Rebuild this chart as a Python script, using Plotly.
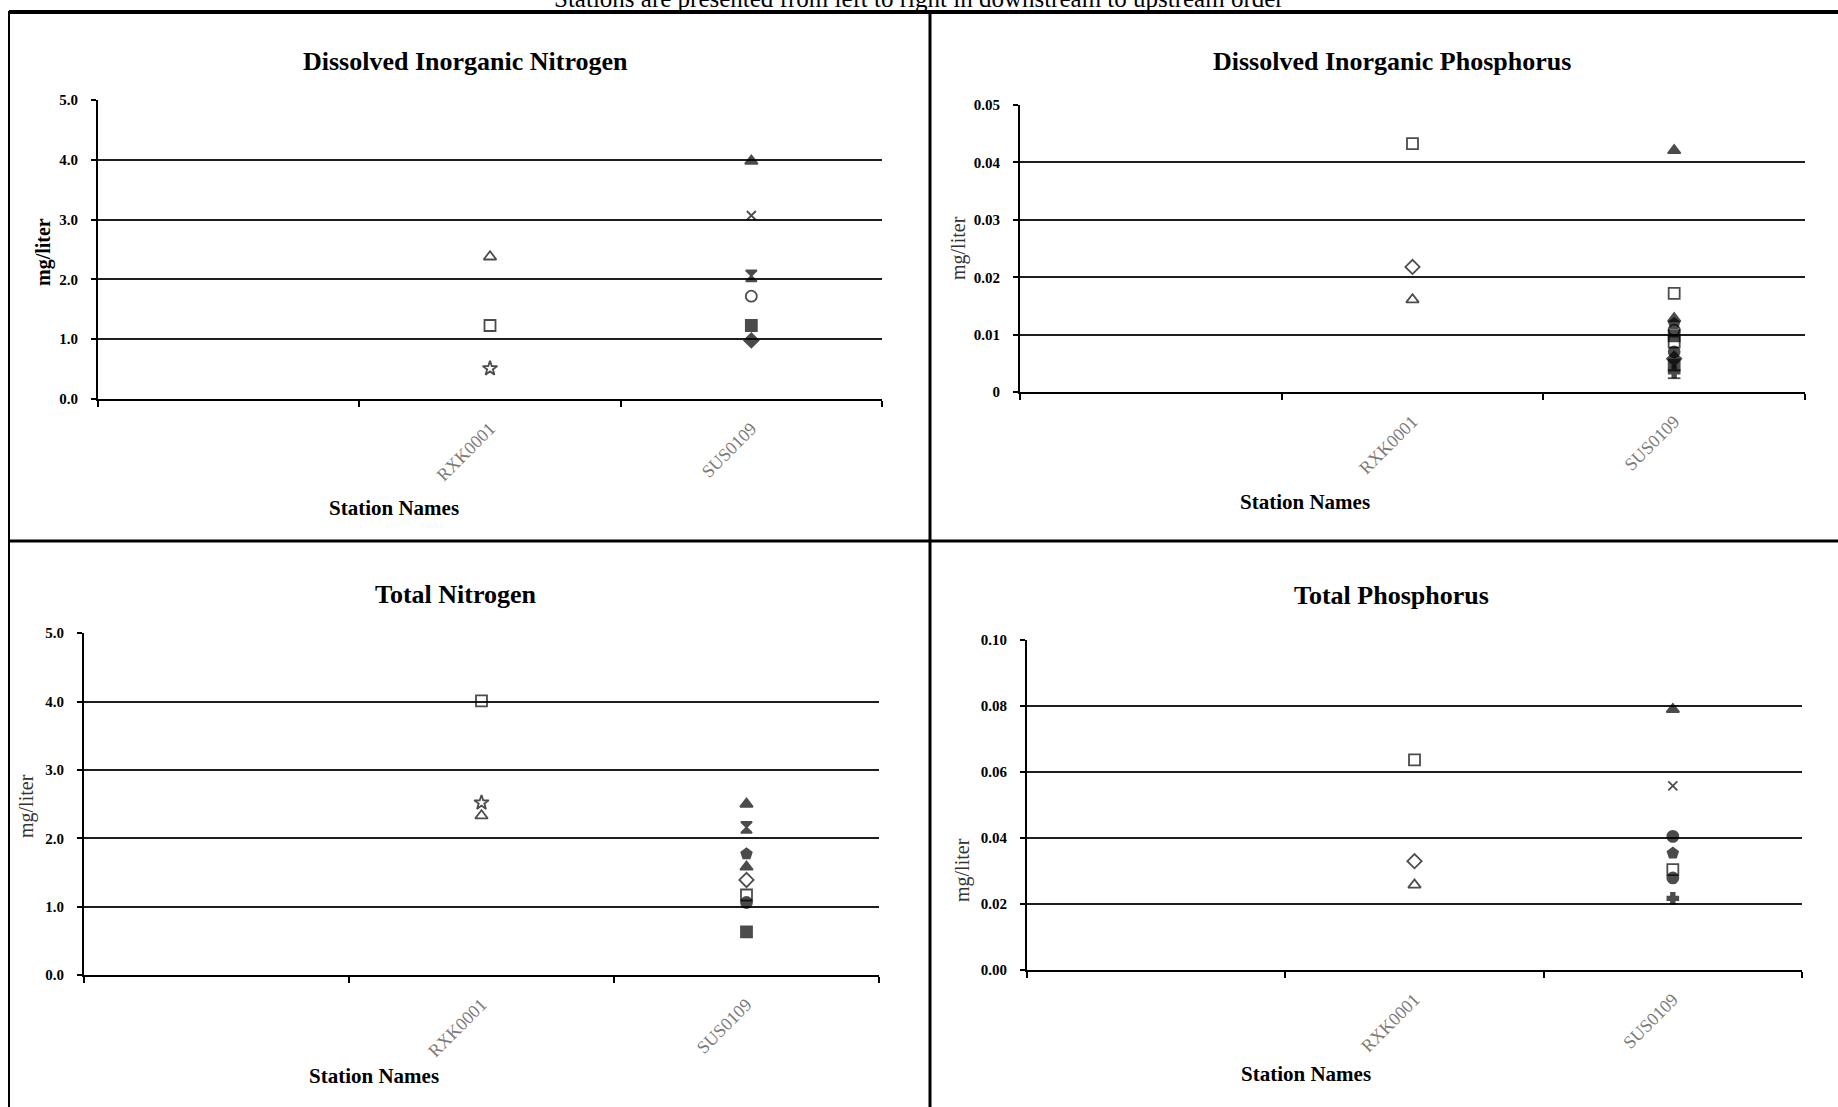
import plotly.graph_objects as go

W, H = 1838, 1107
FONT = "Liberation Serif"
OFF = 0  # body margin is removed by the post script below

# ---------------- data ----------------
stations = [' ', 'RXK0001', 'SUS0109']

din_rxk = [2.38, 1.23, 0.51]
din_sus = [3.98, 3.07, 2.06, 1.72, 1.23, 0.98]

dip_rxk = [0.0433, 0.0218, 0.0161]
dip_sus = [0.0421, 0.0172, 0.0128, 0.0119, 0.0108, 0.0098, 0.0087,
           0.0070, 0.0058, 0.0047, 0.0035, 0.0024]

tn_rxk = [4.01, 2.52, 2.33]
tn_sus = [2.50, 2.16, 1.77, 1.58, 1.39, 1.17, 1.06, 0.63]

tp_rxk = [0.0637, 0.0330, 0.0258]
tp_sus = [0.0790, 0.0558, 0.0405, 0.0354, 0.0304, 0.0279, 0.0217]

n_ticks = [0, 1, 2, 3, 4, 5]
n_labels = ['0.0', '1.0', '2.0', '3.0', '4.0', '5.0']
dip_ticks = [0, 0.01, 0.02, 0.03, 0.04, 0.05]
dip_labels = ['0', '0.01', '0.02', '0.03', '0.04', '0.05']
tp_ticks = [0, 0.02, 0.04, 0.06, 0.08, 0.10]
tp_labels = ['0.00', '0.02', '0.04', '0.06', '0.08', '0.10']

titles = ['Dissolved Inorganic Nitrogen', 'Dissolved Inorganic Phosphorus',
          'Total Nitrogen', 'Total Phosphorus']
top_note = 'Stations are presented from left to right in downstream to upstream order'

# ---------------- styles ----------------
din_rxk_sym = ['triangle-up-open', 'square-open', 'star-open']
din_sus_sym = ['triangle-up', 'x-thin-open', 'hourglass', 'circle-open', 'square', 'diamond']
dip_rxk_sym = ['square-open', 'diamond-open', 'triangle-up-open']
dip_sus_sym = ['triangle-up', 'square-open', 'triangle-up', 'pentagon', 'circle-open', 'square',
               'square-open', 'circle', 'diamond', 'square', 'cross', 'line-ew-open']
tn_rxk_sym = ['square-open', 'star-open', 'triangle-up-open']
tn_sus_sym = ['triangle-up', 'hourglass', 'pentagon', 'triangle-up', 'diamond-open',
              'square-open', 'circle', 'square']
tp_rxk_sym = ['square-open', 'diamond-open', 'triangle-up-open']
tp_sus_sym = ['triangle-up', 'x-thin-open', 'circle', 'pentagon', 'square-open', 'circle', 'cross']


def px(x):
    return (x - OFF) / W


def py(y):
    return 1 - (y - OFF) / H


# panel geometry in page pixels: x0, x1, ytop, ybottom
panels = [
    dict(title=titles[0], rxk=din_rxk, rsym=din_rxk_sym, sus=din_sus, ssym=din_sus_sym,
         rng=[0, 5.002], tv=n_ticks, tt=n_labels, box=(98, 882, 100, 399),
         tpos=(465, 61), ypos=(43, 252), xpos=(394, 508), ybold=True),
    dict(title=titles[1], rxk=dip_rxk, rsym=dip_rxk_sym, sus=dip_sus, ssym=dip_sus_sym,
         rng=[0, 0.05002], tv=dip_ticks, tt=dip_labels, box=(1020, 1805, 105, 392),
         tpos=(1392, 61), ypos=(959, 248), xpos=(1305, 502), ybold=False),
    dict(title=titles[2], rxk=tn_rxk, rsym=tn_rxk_sym, sus=tn_sus, ssym=tn_sus_sym,
         rng=[0, 5.002], tv=n_ticks, tt=n_labels, box=(84, 879, 633, 975),
         tpos=(456, 594), ypos=(26, 806), xpos=(374, 1076), ybold=False),
    dict(title=titles[3], rxk=tp_rxk, rsym=tp_rxk_sym, sus=tp_sus, ssym=tp_sus_sym,
         rng=[0, 0.10004], tv=tp_ticks, tt=tp_labels, box=(1027, 1802, 640, 970),
         tpos=(1391, 595), ypos=(963, 870), xpos=(1306, 1074), ybold=False),
]

fig = go.Figure()
layout = dict(
    width=W, height=H, margin=dict(l=0, r=0, t=0, b=0, autoexpand=False),
    paper_bgcolor='white', plot_bgcolor='white', showlegend=False,
    font=dict(family=FONT, color='black'),
)
annotations = []
shapes = []


def msizes(syms):
    out = []
    for s in syms:
        if s.startswith('x-thin') or s.startswith('cross') or s.startswith('line'):
            out.append(9)
        else:
            out.append(11)
    return out


for i, p in enumerate(panels, start=1):
    xa = 'x' if i == 1 else f'x{i}'
    ya = 'y' if i == 1 else f'y{i}'
    x0, x1, yt, yb = p['box']
    # register all categories (including the blank first station)
    fig.add_trace(go.Scatter(x=stations, y=[None] * len(stations), mode='markers',
                             xaxis=xa, yaxis=ya, hoverinfo='skip'))
    for name, vals, syms in (('RXK0001', p['rxk'], p['rsym']), ('SUS0109', p['sus'], p['ssym'])):
        fig.add_trace(go.Scatter(
            x=[name] * len(vals), y=vals, mode='markers', xaxis=xa, yaxis=ya,
            marker=dict(symbol=syms, size=msizes(syms), color='black',
                        line=dict(color='black', width=1.8)),
        ))
    xkey = 'xaxis' if i == 1 else f'xaxis{i}'
    ykey = 'yaxis' if i == 1 else f'yaxis{i}'
    layout[xkey] = dict(
        domain=[px(x0), px(x1)], anchor=ya, type='category',
        categoryorder='array', categoryarray=stations, range=[-0.5, 2.5],
        tickson='boundaries', ticks='outside', ticklen=6, tickwidth=1.5, tickcolor='black',
        showline=True, linecolor='black', linewidth=2, showgrid=False, zeroline=False,
        tickangle=-45, ticklabelstandoff=10, automargin=False,
        tickfont=dict(family=FONT, size=18, color='#7a7a7a'),
    )
    layout[ykey] = dict(
        domain=[py(yb), py(yt)], anchor=xa, range=p['rng'],
        tickmode='array', tickvals=p['tv'], ticktext=[f'<b>{t}</b>' for t in p['tt']],
        ticks='outside', ticklen=5, tickwidth=1.5, tickcolor='black',
        showline=True, linecolor='black', linewidth=2, ticklabelstandoff=10,
        showgrid=True, gridcolor='#1e1e1e', gridwidth=2, zeroline=False, automargin=False,
        tickfont=dict(family=FONT, size=15, color='black'),
    )
    annotations.append(dict(
        text=f"<b>{p['title']}</b>", x=px(p['tpos'][0]), y=py(p['tpos'][1]),
        xref='paper', yref='paper', showarrow=False, xanchor='center', yanchor='middle',
        font=dict(family=FONT, size=26, color='black')))
    ytxt = '<b>mg/liter</b>' if p['ybold'] else 'mg/liter'
    annotations.append(dict(
        text=ytxt, x=px(p['ypos'][0]), y=py(p['ypos'][1]), textangle=-90,
        xref='paper', yref='paper', showarrow=False, xanchor='center', yanchor='middle',
        font=dict(family=FONT, size=20, color='black' if p['ybold'] else '#333333')))
    annotations.append(dict(
        text='<b>Station Names</b>', x=px(p['xpos'][0]), y=py(p['xpos'][1]),
        xref='paper', yref='paper', showarrow=False, xanchor='center', yanchor='middle',
        font=dict(family=FONT, size=21, color='black')))

annotations.append(dict(
    text=top_note, x=px(919), y=py(14), xref='paper', yref='paper', showarrow=False,
    xanchor='center', yanchor='bottom', font=dict(family=FONT, size=25, color='black')))

# panel frame lines (decorative)
line = dict(color='black', width=3)
shapes += [
    dict(type='line', xref='paper', yref='paper', x0=px(9), x1=1, y0=py(12), y1=py(12),
         line=dict(color='black', width=4)),
    dict(type='line', xref='paper', yref='paper', x0=px(9), x1=px(9), y0=py(11), y1=0,
         line=dict(color='black', width=2)),
    dict(type='line', xref='paper', yref='paper', x0=px(930), x1=px(930), y0=py(11), y1=0, line=line),
    dict(type='line', xref='paper', yref='paper', x0=px(9), x1=1, y0=py(541), y1=py(541), line=line),
]

layout['annotations'] = annotations
layout['shapes'] = shapes
fig.update_layout(**layout)
fig.write_html('out.html', config={'displayModeBar': False},
               post_script="document.body.style.margin='0px';")
